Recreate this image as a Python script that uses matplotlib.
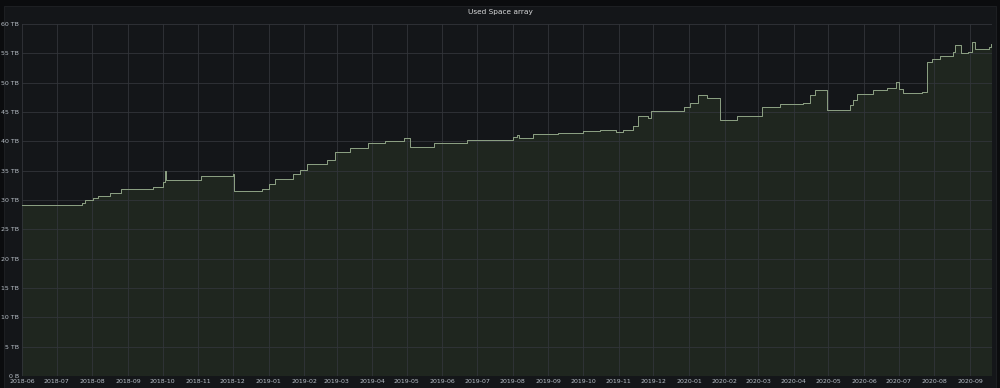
import matplotlib
matplotlib.use("Agg")
import matplotlib.pyplot as plt
import matplotlib.dates as mdates
import pandas as pd
from matplotlib.patches import Rectangle

title = "Used Space array"

dates = [
    "2018-06-01", "2018-07-23", "2018-07-26", "2018-08-02", "2018-08-06", "2018-08-16",
    "2018-08-26", "2018-09-23", "2018-10-01", "2018-10-03", "2018-10-04", "2018-11-03",
    "2018-12-01", "2018-12-02", "2018-12-26", "2019-01-01", "2019-01-07", "2019-01-22",
    "2019-01-28", "2019-02-03", "2019-02-21", "2019-02-28", "2019-03-13", "2019-03-28",
    "2019-04-12", "2019-04-29", "2019-05-03", "2019-05-04", "2019-05-24", "2019-05-25",
    "2019-06-22", "2019-08-01", "2019-08-05", "2019-08-06", "2019-08-16", "2019-08-19",
    "2019-09-09", "2019-10-01", "2019-10-16", "2019-10-30", "2019-11-05", "2019-11-13",
    "2019-11-18", "2019-11-26", "2019-11-29", "2019-12-28", "2020-01-02", "2020-01-09",
    "2020-01-17", "2020-01-27", "2020-01-28", "2020-02-12", "2020-03-04", "2020-03-20",
    "2020-04-09", "2020-04-15", "2020-04-19", "2020-04-29", "2020-04-30", "2020-05-20",
    "2020-05-22", "2020-05-26", "2020-06-09", "2020-06-21", "2020-06-29", "2020-07-01",
    "2020-07-05", "2020-07-21", "2020-07-26", "2020-07-30", "2020-08-06", "2020-08-17",
    "2020-08-19", "2020-08-23", "2020-08-24", "2020-08-30", "2020-09-03", "2020-09-05",
    "2020-09-14", "2020-09-17", "2020-09-19", "2020-09-20",
]
used_tb = [
    29.15, 29.5, 30.0, 30.3, 30.6, 31.2,
    31.8, 32.3, 33.0, 35.0, 33.4, 34.1,
    34.5, 31.5, 31.9, 32.8, 33.5, 34.5,
    35.2, 36.2, 36.8, 38.2, 38.8, 39.8,
    40.1, 40.6, 40.6, 39.0, 39.1, 39.8,
    40.3, 40.8, 41.1, 40.5, 40.6, 41.2,
    41.5, 41.8, 42.0, 41.6, 41.9, 42.6,
    44.4, 43.9, 45.2, 45.8, 46.5, 47.9,
    47.4, 47.4, 43.6, 44.3, 45.9, 46.4,
    46.6, 47.9, 48.7, 48.8, 45.4, 46.2,
    47.1, 48.1, 48.8, 49.1, 50.1, 49.0,
    48.2, 48.5, 53.6, 54.1, 54.6, 55.2,
    56.4, 56.4, 55.0, 55.3, 56.9, 55.8,
    55.7, 56.1, 56.6, 56.6,
]
y_ticks = [0, 5, 10, 15, 20, 25, 30, 35, 40, 45, 50, 55, 60]
y_labels = ["0 B"] + [f"{v} TB" for v in y_ticks[1:]]
month_ticks = pd.date_range("2018-06-01", "2020-09-01", freq="MS")

x = pd.to_datetime(dates)

fig = plt.figure(figsize=(10, 3.88), dpi=100, facecolor="#0b0c0e")
fig.patches.append(Rectangle((0.004, 0.0), 0.992, 0.985, transform=fig.transFigure,
                             facecolor="#141619", edgecolor="#202226", lw=0.6, zorder=-10))
ax = fig.add_axes([0.022, 0.031, 0.970, 0.907])
ax.set_facecolor("#141619")

ax.fill_between(x, used_tb, 0, step="post", color="#1f261f", lw=0, zorder=1)
ax.plot(x, used_tb, drawstyle="steps-post", color="#8ea285", lw=0.7, zorder=3)

ax.set_ylim(0, 60)
ax.set_xlim(pd.Timestamp("2018-06-01"), pd.Timestamp("2020-09-20"))
ax.set_yticks(y_ticks)
ax.set_yticklabels(y_labels)
ax.set_xticks(month_ticks)
ax.xaxis.set_major_formatter(mdates.DateFormatter("%Y-%m"))

ax.grid(True, color="#32353a", lw=0.6, zorder=2)
ax.set_axisbelow(False)
for s in ax.spines.values():
    s.set_visible(False)
ax.tick_params(axis="both", length=0, labelsize=4.5, colors="#b9c0c8", pad=2)

fig.text(0.5, 0.968, title, ha="center", va="center", fontsize=5.3, color="#d8d9da")

fig.savefig("out.png", dpi=100, facecolor=fig.get_facecolor())
